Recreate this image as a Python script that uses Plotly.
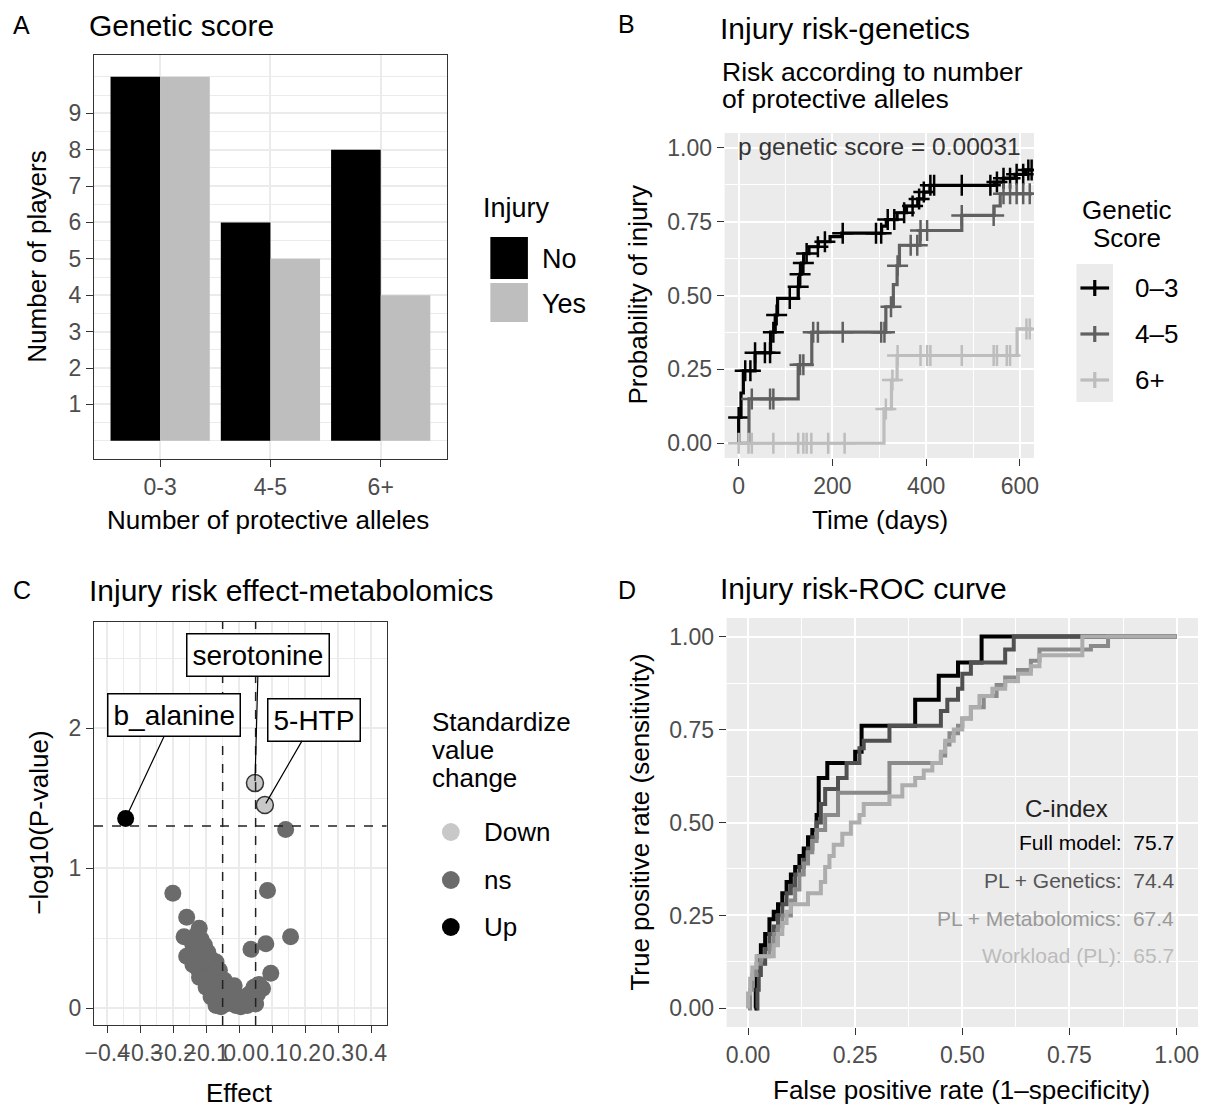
import numpy as np
import plotly.graph_objects as go

W, H = 1207, 1109
FONT = "Liberation Sans, Arial, sans-serif"

# ---------------- data ----------------
# Panel A
allele_groups = ["0-3", "4-5", "6+"]
players_no_injury = [10, 6, 8]
players_injury = [10, 5, 4]

# Panel B (Kaplan-Meier, step corners)
km03_t = [0, 0, 5, 10, 35, 68, 78, 83, 127, 130, 134, 139, 150, 170, 195, 220, 305, 315, 338, 358, 382, 395, 408, 545, 565, 590, 612, 626]
km03_p = [0, 0.087, 0.17, 0.245, 0.306, 0.376, 0.434, 0.49, 0.53, 0.572, 0.61, 0.642, 0.665, 0.682, 0.699, 0.711, 0.735, 0.757, 0.78, 0.803, 0.827, 0.85, 0.873, 0.884, 0.897, 0.91, 0.925, 0.925]
km03_cens = [0, 14, 25, 35, 56, 67, 74, 81, 109, 127, 131, 138, 145, 169, 184, 222, 293, 304, 318, 332, 353, 371, 385, 395, 409, 417, 476, 537, 551, 565, 579, 593, 607, 618, 625]

km45_t = [0, 22, 127, 156, 314, 330, 338, 343, 387, 476, 545, 558, 626]
km45_p = [0, 0.15, 0.266, 0.376, 0.462, 0.537, 0.601, 0.670, 0.72, 0.771, 0.803, 0.844, 0.844]
km45_cens = [28, 67, 74, 131, 138, 159, 169, 222, 304, 311, 325, 339, 367, 381, 388, 402, 476, 544, 565, 579, 593, 607, 621]

km6_t = [0, 310, 326, 338, 594, 626]
km6_p = [0, 0.116, 0.214, 0.297, 0.387, 0.387]
km6_cens = [0, 21, 28, 74, 127, 138, 145, 155, 191, 226, 314, 328, 339, 388, 402, 409, 476, 544, 551, 572, 579, 614, 621]

km_groups = ["0–3", "4–5", "6+"]
p_genetic = "0.00031"

# Panel C (volcano)
ns_effect = [-0.201, -0.159, -0.167, 0.086, 0.156, 0.081, 0.036, 0.096, 0.071, 0.141,
             -0.121, -0.13, -0.115, -0.14, -0.125, -0.105, -0.159, -0.145, -0.13, -0.11,
             -0.095, -0.085, -0.07, -0.14, -0.125, -0.11, -0.095, -0.12, -0.105, -0.09,
             -0.075, -0.06, -0.1, -0.085, -0.07, -0.055, -0.085, -0.07, -0.055, -0.04,
             -0.07, -0.055, -0.04, -0.025, -0.015, -0.01, 0.0, 0.005, 0.015, 0.025,
             0.03, 0.04, 0.045, 0.05, 0.055, 0.06, -0.03, -0.045]
ns_logp = [0.82, 0.65, 0.51, 0.84, 0.51, 0.46, 0.42, 0.25, 0.14, 1.276,
           0.57, 0.52, 0.49, 0.45, 0.44, 0.45, 0.37, 0.38, 0.36, 0.38,
           0.40, 0.35, 0.33, 0.31, 0.28, 0.29, 0.30, 0.22, 0.21, 0.23,
           0.25, 0.27, 0.15, 0.14, 0.16, 0.18, 0.08, 0.07, 0.09, 0.12,
           0.02, 0.01, 0.03, 0.05, 0.16, 0.02, 0.08, 0.01, 0.04, 0.02,
           0.10, 0.06, 0.15, 0.03, 0.10, 0.17, 0.09, 0.20]
down_effect = [0.048, 0.078]
down_logp = [1.607, 1.45]
down_names = ["serotonine", "5-HTP"]
up_effect = [-0.344]
up_logp = [1.355]
up_names = ["b_alanine"]
label_pos_effect = {"serotonine": 0.0585, "5-HTP": 0.228, "b_alanine": -0.198}
label_pos_logp = {"serotonine": 2.52, "5-HTP": 2.06, "b_alanine": 2.09}
p_threshold = 0.05
effect_threshold = 0.05
effect_ticks = [-0.4, -0.3, -0.2, -0.1, 0.0, 0.1, 0.2, 0.3, 0.4]

# Panel D (ROC)
roc_full_x = [0.015, 0.018, 0.02, 0.025, 0.03, 0.04, 0.05, 0.06, 0.07, 0.08, 0.09, 0.10, 0.11, 0.12, 0.13, 0.14, 0.15, 0.16, 0.165, 0.185, 0.25, 0.265, 0.39, 0.445, 0.49, 0.545, 1.0]
roc_full_y = [0.0, 0.05, 0.10, 0.14, 0.17, 0.20, 0.24, 0.26, 0.28, 0.31, 0.34, 0.36, 0.38, 0.41, 0.43, 0.46, 0.48, 0.52, 0.62, 0.66, 0.69, 0.76, 0.83, 0.895, 0.93, 1.0, 1.0]
roc_gen_x = [0.02, 0.022, 0.025, 0.03, 0.04, 0.05, 0.06, 0.07, 0.08, 0.09, 0.10, 0.11, 0.12, 0.13, 0.14, 0.15, 0.16, 0.17, 0.18, 0.21, 0.23, 0.26, 0.27, 0.33, 0.45, 0.465, 0.49, 0.50, 0.52, 0.60, 0.62, 1.0]
roc_gen_y = [0.0, 0.05, 0.09, 0.12, 0.16, 0.20, 0.22, 0.25, 0.28, 0.31, 0.33, 0.36, 0.38, 0.40, 0.43, 0.46, 0.50, 0.55, 0.59, 0.62, 0.66, 0.70, 0.72, 0.76, 0.80, 0.83, 0.86, 0.90, 0.93, 0.965, 1.0, 1.0]
roc_met_x = [0.0, 0.005, 0.01, 0.02, 0.03, 0.05, 0.06, 0.07, 0.08, 0.10, 0.11, 0.12, 0.13, 0.14, 0.15, 0.16, 0.18, 0.21, 0.33, 0.45, 0.46, 0.47, 0.49, 0.50, 0.52, 0.55, 0.58, 0.60, 0.63, 0.66, 0.68, 0.80, 0.84, 1.0]
roc_met_y = [0.0, 0.05, 0.09, 0.12, 0.14, 0.17, 0.20, 0.22, 0.25, 0.29, 0.32, 0.36, 0.39, 0.42, 0.45, 0.48, 0.52, 0.58, 0.66, 0.68, 0.71, 0.74, 0.76, 0.78, 0.81, 0.84, 0.87, 0.89, 0.91, 0.935, 0.965, 0.975, 1.0, 1.0]
roc_wl_x = [0.0, 0.0, 0.005, 0.01, 0.02, 0.06, 0.07, 0.08, 0.09, 0.10, 0.14, 0.17, 0.18, 0.19, 0.20, 0.22, 0.24, 0.26, 0.27, 0.33, 0.36, 0.39, 0.41, 0.43, 0.45, 0.46, 0.48, 0.50, 0.52, 0.54, 0.57, 0.60, 0.63, 0.66, 0.68, 0.78, 1.0]
roc_wl_y = [0.0, 0.04, 0.08, 0.11, 0.14, 0.17, 0.20, 0.23, 0.26, 0.28, 0.31, 0.34, 0.38, 0.41, 0.44, 0.47, 0.50, 0.52, 0.55, 0.57, 0.60, 0.62, 0.64, 0.66, 0.69, 0.72, 0.75, 0.78, 0.81, 0.84, 0.86, 0.88, 0.90, 0.92, 0.95, 1.0, 1.0]
roc_models = ["Full model:", "PL + Genetics:", "PL + Metabolomics:", "Workload (PL):"]
c_index = [75.7, 74.4, 67.4, 65.7]
rate_ticks = [0, 0.25, 0.5, 0.75, 1.0]

# ---------------- helpers ----------------
def px(x):
    return x / W

def py(y):
    return 1 - y / H

annotations = []
shapes = []
PAD = 5  # compensation for annotation box padding

def text(t, x, y, size=26, color="#000000", xanchor="left", angle=0):
    if angle == 0:
        if xanchor == "left":
            x -= PAD
        elif xanchor == "right":
            x += PAD
    annotations.append(dict(text=t, x=px(x), y=py(y), xref="paper", yref="paper",
                            xanchor=xanchor, yanchor="middle", showarrow=False,
                            textangle=angle, font=dict(family=FONT, size=size, color=color)))

def rect(x0, y0, x1, y1, fill):
    shapes.append(dict(type="rect", xref="paper", yref="paper", x0=px(x0), x1=px(x1),
                       y0=py(y1), y1=py(y0), fillcolor=fill,
                       line=dict(width=0, color=fill), layer="above"))

def seg(x0, y0, x1, y1, color, lw):
    shapes.append(dict(type="line", xref="paper", yref="paper", x0=px(x0), x1=px(x1),
                       y0=py(y0), y1=py(y1), line=dict(color=color, width=lw), layer="above"))

def circle(cx, cy, r, fill):
    shapes.append(dict(type="circle", xref="paper", yref="paper", x0=px(cx - r), x1=px(cx + r),
                       y0=py(cy + r), y1=py(cy - r), fillcolor=fill,
                       line=dict(width=0, color=fill), layer="above"))

fig = go.Figure()

# ---------------- Panel A ----------------
fig.add_trace(go.Bar(x=allele_groups, y=players_no_injury, marker=dict(color="#000000", line=dict(width=0)),
                     xaxis="x", yaxis="y", showlegend=False, name="No"))
fig.add_trace(go.Bar(x=allele_groups, y=players_injury, marker=dict(color="#bebebe", line=dict(width=0)),
                     xaxis="x", yaxis="y", showlegend=False, name="Yes"))

# ---------------- Panel B ----------------
km_sets = [(km03_t, km03_p, km03_cens, "#000000"),
           (km45_t, km45_p, km45_cens, "#606060"),
           (km6_t, km6_p, km6_cens, "#bdbdbd")]
for t, p, cens, col in km_sets:
    fig.add_trace(go.Scatter(x=t, y=p, mode="lines", line=dict(shape="hv", color=col, width=3.2),
                             xaxis="x2", yaxis="y2", showlegend=False, hoverinfo="skip"))
    ta = np.array(t)
    pa = np.array(p)
    idx = np.searchsorted(ta, np.array(cens), side="right") - 1
    fig.add_trace(go.Scatter(x=cens, y=pa[idx], mode="markers",
                             marker=dict(symbol="cross-thin", size=15, color=col, line=dict(width=2.5, color=col)),
                             xaxis="x2", yaxis="y2", showlegend=False, hoverinfo="skip"))

# ---------------- Panel C ----------------
fig.add_trace(go.Scatter(x=ns_effect, y=ns_logp, mode="markers",
                         marker=dict(size=17, color="#6b6b6b", line=dict(width=0)),
                         xaxis="x3", yaxis="y3", showlegend=False))
fig.add_trace(go.Scatter(x=down_effect, y=down_logp, mode="markers",
                         marker=dict(size=17, color="#c8c8c8", line=dict(width=1.5, color="#333333")),
                         xaxis="x3", yaxis="y3", showlegend=False))
fig.add_trace(go.Scatter(x=up_effect, y=up_logp, mode="markers",
                         marker=dict(size=17, color="#000000", line=dict(width=0)),
                         xaxis="x3", yaxis="y3", showlegend=False))

sig_line = -np.log10(p_threshold)
shapes.append(dict(type="line", xref="x3 domain", yref="y3", x0=0, x1=1, y0=sig_line, y1=sig_line,
                   line=dict(color="#222222", width=1.5, dash="dash")))
for xv in (-effect_threshold, effect_threshold):
    shapes.append(dict(type="line", xref="x3", yref="y3 domain", x0=xv, x1=xv, y0=0, y1=1,
                       line=dict(color="#222222", width=1.5, dash="dash")))

for names, xs, ys in ((down_names, down_effect, down_logp), (up_names, up_effect, up_logp)):
    for nm, xv, yv in zip(names, xs, ys):
        annotations.append(dict(text=nm, x=xv, y=yv, xref="x3", yref="y3",
                                ax=label_pos_effect[nm], ay=label_pos_logp[nm], axref="x3", ayref="y3",
                                showarrow=True, arrowhead=0, arrowwidth=1.2, arrowcolor="#000000",
                                standoff=2, bgcolor="white", bordercolor="#000000", borderwidth=1.5,
                                borderpad=5, font=dict(family=FONT, size=28, color="#000000")))

# ---------------- Panel D ----------------
roc_sets = [(roc_full_x, roc_full_y, "#000000"),
            (roc_gen_x, roc_gen_y, "#505050"),
            (roc_met_x, roc_met_y, "#8a8a8a"),
            (roc_wl_x, roc_wl_y, "#adadad")]
for xs, ys, col in roc_sets:
    fig.add_trace(go.Scatter(x=xs, y=ys, mode="lines", line=dict(shape="hv", color=col, width=4),
                             xaxis="x4", yaxis="y4", showlegend=False, hoverinfo="skip"))

# gray panel backgrounds
for ax in ("x2", "x4"):
    yax = "y" + ax[1:]
    shapes.append(dict(type="rect", xref=ax + " domain", yref=yax + " domain", x0=0, x1=1, y0=0, y1=1,
                       fillcolor="#ebebeb", line=dict(width=0), layer="below"))

# ---------------- axes ----------------
tickfont = dict(family=FONT, size=23, color="#4d4d4d")

def bw_axis(**kw):
    d = dict(showline=True, mirror=True, linecolor="#333333", linewidth=1.4,
             ticks="outside", ticklen=7, tickcolor="#333333", tickwidth=1.4,
             showgrid=True, gridcolor="#ebebeb", gridwidth=1.5, zeroline=False,
             tickfont=tickfont, tickangle=0, fixedrange=True)
    d.update(kw)
    return d

def gray_axis(**kw):
    d = dict(showline=False, ticks="outside", ticklen=7, tickcolor="#333333", tickwidth=1.4,
             showgrid=True, gridcolor="#ffffff", gridwidth=2, zeroline=False,
             tickfont=tickfont, tickangle=0, fixedrange=True)
    d.update(kw)
    return d

half_steps = [v / 2 for v in range(0, 21) if v % 2 == 1] + [0, 10]

layout = dict(
    width=W, height=H, autosize=False,
    margin=dict(l=0, r=0, t=0, b=0),
    paper_bgcolor="white", plot_bgcolor="white",
    barmode="group", bargap=0.1, bargroupgap=0,
    font=dict(family=FONT),
    xaxis=bw_axis(domain=[px(86), px(443)], range=[-0.6, 2.6], anchor="y", type="category"),
    yaxis=bw_axis(domain=[py(459), py(55)], range=[-0.5, 10.6], anchor="x",
                  tickvals=list(range(1, 10)),
                  minor=dict(tickmode="array", tickvals=half_steps, showgrid=True,
                             gridcolor="#ebebeb", gridwidth=1, ticks="")),
    xaxis2=gray_axis(domain=[px(724), px(1037)], range=[-30, 630], anchor="y2",
                     tickvals=[0, 200, 400, 600],
                     minor=dict(tickmode="array", tickvals=[100, 300, 500], showgrid=True,
                                gridcolor="#ffffff", gridwidth=1, ticks="")),
    yaxis2=gray_axis(domain=[py(458), py(133)], range=[-0.05, 1.05], anchor="x2",
                     tickvals=rate_ticks, ticktext=["%.2f" % v for v in rate_ticks],
                     minor=dict(tickmode="array", tickvals=[0.125, 0.375, 0.625, 0.875], showgrid=True,
                                gridcolor="#ffffff", gridwidth=1, ticks="")),
    xaxis3=bw_axis(domain=[px(86), px(382)], range=[-0.44, 0.447], anchor="y3",
                   tickvals=effect_ticks,
                   ticktext=[("−%.1f" % abs(v)) if v < 0 else "%.1f" % v for v in effect_ticks],
                   minor=dict(tickmode="array", tickvals=[-0.35, -0.25, -0.15, -0.05, 0.05, 0.15, 0.25, 0.35],
                              showgrid=True, gridcolor="#ebebeb", gridwidth=1, ticks="")),
    yaxis3=bw_axis(domain=[py(1025), py(622)], range=[-0.12, 2.757], anchor="x3",
                   tickvals=[0, 1, 2],
                   minor=dict(tickmode="array", tickvals=[0.5, 1.5, 2.5], showgrid=True,
                              gridcolor="#ebebeb", gridwidth=1, ticks="")),
    xaxis4=gray_axis(domain=[px(726), px(1203)], range=[-0.05, 1.05], anchor="y4",
                     tickvals=rate_ticks, ticktext=["%.2f" % v for v in rate_ticks],
                     minor=dict(tickmode="array", tickvals=[0.125, 0.375, 0.625, 0.875], showgrid=True,
                                gridcolor="#ffffff", gridwidth=1, ticks="")),
    yaxis4=gray_axis(domain=[py(1027), py(618)], range=[-0.05, 1.05], anchor="x4",
                     tickvals=rate_ticks, ticktext=["%.2f" % v for v in rate_ticks],
                     minor=dict(tickmode="array", tickvals=[0.125, 0.375, 0.625, 0.875], showgrid=True,
                                gridcolor="#ffffff", gridwidth=1, ticks="")),
)

# ---------------- texts ----------------
text("A", 7, 25, 25)
text("Genetic score", 84, 25, 30)
text("B", 619, 24, 25)
text("Injury risk-genetics", 722, 28, 30)
text("Risk according to number", 724, 72, 26.5)
text("of protective alleles", 724, 99, 26.5)
text("C", 7, 590, 25)
text("Injury risk effect-metabolomics", 84, 590, 30)
text("D", 619, 590, 25)
text("Injury risk-ROC curve", 722, 588, 30)

text("Number of players", 28, 257, 26, xanchor="center", angle=-90)
text("Number of protective alleles", 262, 520, 26, xanchor="center")
text("Probability of injury", 636, 295, 26, xanchor="center", angle=-90)
text("Time (days)", 881, 520, 26, xanchor="center")
text("−log10(P-value)", 30, 823, 26, xanchor="center", angle=-90)
text("Effect", 233, 1093, 26, xanchor="center")
text("True positive rate (sensitivity)", 638, 822, 26, xanchor="center", angle=-90)
text("False positive rate (1–specificity)", 964, 1090, 26, xanchor="center")

text("p genetic score = " + p_genetic, 881, 146, 24.5, color="#333333", xanchor="center")

# Legend A
text("Injury", 483, 208, 27)
rect(487, 237, 525, 279, "#000000")
rect(487, 283, 525, 322, "#bebebe")
text("No", 542, 259, 27)
text("Yes", 542, 304, 27)

# Legend B
text("Genetic", 1131, 210, 26, xanchor="center")
text("Score", 1131, 238, 26, xanchor="center")
rect(1080, 264, 1117, 402, "#ebebeb")
for grp, (t, p, cens, col), yy in zip(km_groups, km_sets, [288, 334, 380]):
    seg(1084, yy, 1113, yy, col, 3.2)
    seg(1098.5, yy - 8, 1098.5, yy + 8, col, 3.2)
    text(grp, 1142, yy, 26)

# Legend C
text("Standardize", 431, 722, 26)
text("value", 431, 750, 26)
text("change", 431, 778, 26)
for lab, col, yy in zip(["Down", "ns", "Up"], ["#c8c8c8", "#6b6b6b", "#000000"], [832, 880, 927]):
    circle(447, yy, 9, col)
    text(lab, 484, yy, 26)

# C-index block in D
text("C-index", 1070, 808, 24, color="#222222", xanchor="center")
cidx_colors = ["#000000", "#555555", "#999999", "#bbbbbb"]
for name, val, col, yy in zip(roc_models, c_index, cidx_colors, [843, 880, 918, 955]):
    text(name + "\u00a0\u00a0" + ("%.1f" % val), 1176, yy, 21, color=col, xanchor="right")

layout["annotations"] = annotations
layout["shapes"] = shapes
fig.update_layout(**layout)

fig.write_html("out.html")
